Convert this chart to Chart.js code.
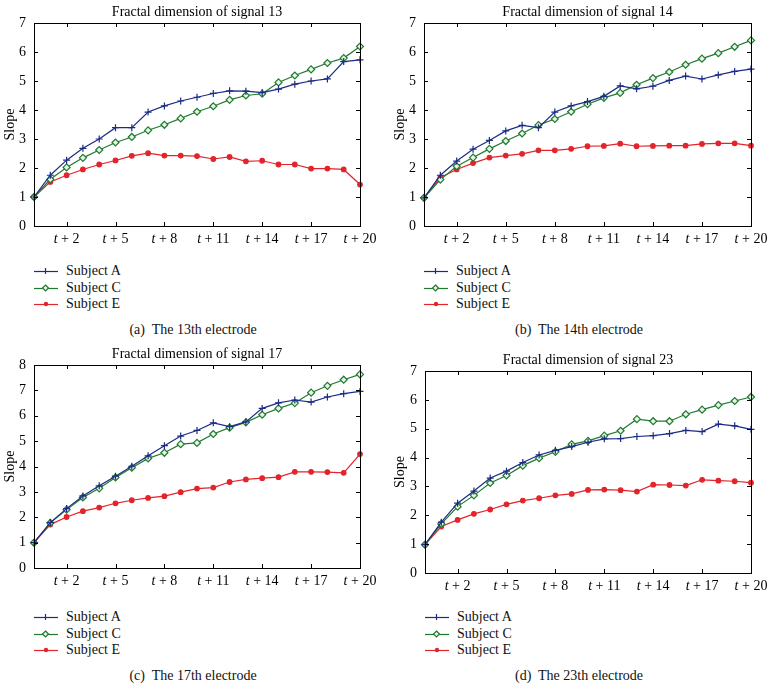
<!DOCTYPE html>
<html lang="en">
<head>
    <meta charset="UTF-8">
    <title>Fractal dimension of signals</title>
    <script src="https://cdn.jsdelivr.net/npm/chart.js"></script>
    <style>
        body {
            margin: 0;
            background: #fff;
            font-family: "Liberation Serif", serif;
        }
        .page {
            position: relative;
            width: 772px;
            height: 690px;
        }
        .panel {
            position: absolute;
        }
        .legend {
            position: absolute;
            font-size: 14px;
            line-height: 16.5px;
            color: #111;
        }
        .legend div {
            display: flex;
            align-items: center;
        }
        .legend svg {
            margin-right: 8px;
        }
        .caption {
            position: absolute;
            width: 386px;
            text-align: center;
            font-size: 14px;
            color: #111;
            white-space: pre;
        }
    </style>
</head>
<body>
<div class="page" id="page"></div>
<script>
    // x categories: t, t + 1, ..., t + 20
    const steps = ['t', 't + 1', 't + 2', 't + 3', 't + 4', 't + 5', 't + 6', 't + 7', 't + 8', 't + 9', 't + 10',
        't + 11', 't + 12', 't + 13', 't + 14', 't + 15', 't + 16', 't + 17', 't + 18', 't + 19', 't + 20'];
    const labelledSteps = [2, 5, 8, 11, 14, 17, 20];
    const subjects = ['Subject A', 'Subject C', 'Subject E'];

    // signal 13
    const sig13A = [1.0, 1.75, 2.27, 2.68, 3.0, 3.39, 3.39, 3.93, 4.14, 4.31, 4.44, 4.57, 4.66, 4.65, 4.6, 4.72, 4.89, 5.0, 5.07, 5.67, 5.73];
    const sig13C = [1.0, 1.61, 2.02, 2.35, 2.62, 2.88, 3.07, 3.3, 3.49, 3.71, 3.94, 4.13, 4.35, 4.5, 4.56, 4.95, 5.19, 5.4, 5.62, 5.79, 6.19];
    const sig13E = [1.0, 1.52, 1.75, 1.95, 2.12, 2.26, 2.42, 2.51, 2.43, 2.43, 2.41, 2.31, 2.38, 2.23, 2.25, 2.12, 2.12, 1.98, 1.98, 1.95, 1.43];
    // signal 14
    const sig14A = [0.97, 1.75, 2.24, 2.65, 2.95, 3.28, 3.47, 3.39, 3.93, 4.14, 4.29, 4.47, 4.83, 4.73, 4.82, 5.02, 5.17, 5.07, 5.21, 5.33, 5.41];
    const sig14C = [0.97, 1.6, 2.06, 2.36, 2.66, 2.93, 3.19, 3.48, 3.69, 3.94, 4.2, 4.42, 4.59, 4.87, 5.1, 5.31, 5.56, 5.77, 5.96, 6.18, 6.4];
    const sig14E = [0.97, 1.67, 1.95, 2.17, 2.36, 2.43, 2.49, 2.61, 2.61, 2.66, 2.75, 2.76, 2.84, 2.75, 2.76, 2.77, 2.77, 2.83, 2.85, 2.85, 2.77];
    // signal 17
    const sig17A = [1.0, 1.79, 2.34, 2.84, 3.24, 3.62, 4.01, 4.42, 4.82, 5.2, 5.42, 5.72, 5.57, 5.76, 6.29, 6.51, 6.62, 6.54, 6.74, 6.87, 6.96];
    const sig17C = [1.0, 1.78, 2.3, 2.78, 3.14, 3.57, 3.95, 4.32, 4.54, 4.88, 4.93, 5.28, 5.53, 5.74, 6.04, 6.29, 6.5, 6.91, 7.18, 7.42, 7.63];
    const sig17E = [1.0, 1.71, 2.01, 2.24, 2.38, 2.55, 2.67, 2.76, 2.83, 2.99, 3.13, 3.17, 3.39, 3.49, 3.54, 3.58, 3.79, 3.79, 3.78, 3.75, 4.49];
    // signal 23
    const sig23A = [0.98, 1.76, 2.42, 2.84, 3.29, 3.53, 3.83, 4.09, 4.25, 4.38, 4.53, 4.65, 4.66, 4.73, 4.76, 4.83, 4.94, 4.9, 5.16, 5.1, 4.98];
    const sig23C = [0.98, 1.7, 2.3, 2.69, 3.12, 3.38, 3.72, 3.98, 4.2, 4.46, 4.58, 4.76, 4.93, 5.33, 5.26, 5.26, 5.5, 5.66, 5.82, 5.96, 6.1];
    const sig23E = [0.98, 1.61, 1.84, 2.05, 2.2, 2.38, 2.51, 2.59, 2.69, 2.74, 2.88, 2.89, 2.87, 2.82, 3.06, 3.05, 3.03, 3.23, 3.2, 3.18, 3.13];

    const colors = ['#1c2b84', '#1f7a2f', '#e3242b'];
    const FONT = '"Liberation Serif", serif';

    // panel placement (box + plot area inside the box)
    const panels = [
        {title: 'Fractal dimension of signal 13', caption: '(a)  The 13th electrode', yMax: 7, data: [sig13A, sig13C, sig13E],
            x: 0, y: 0, w: 386, h: 250, plot: {l: 34, r: 360, t: 23, b: 226}, slopeX: 10, legendTop: 263, captionTop: 322},
        {title: 'Fractal dimension of signal 14', caption: '(b)  The 14th electrode', yMax: 7, data: [sig14A, sig14C, sig14E],
            x: 386, y: 0, w: 386, h: 250, plot: {l: 38, r: 365, t: 23, b: 226}, slopeX: 14, legendTop: 263, captionTop: 322},
        {title: 'Fractal dimension of signal 17', caption: '(c)  The 17th electrode', yMax: 8, data: [sig17A, sig17C, sig17E],
            x: 0, y: 340, w: 386, h: 250, plot: {l: 34, r: 360, t: 25, b: 228}, slopeX: 10, legendTop: 609, captionTop: 668},
        {title: 'Fractal dimension of signal 23', caption: '(d)  The 23th electrode', yMax: 7, data: [sig23A, sig23C, sig23E],
            x: 386, y: 340, w: 386, h: 250, plot: {l: 39, r: 365, t: 31, b: 233}, slopeX: 14, legendTop: 609, captionTop: 668}
    ];

    const frame = {
        id: 'frame',
        afterDraw(chart, args, opts) {
            const ctx = chart.ctx;
            const a = chart.chartArea;
            const xs = chart.scales.x, ys = chart.scales.y;
            ctx.save();
            ctx.strokeStyle = '#000';
            ctx.lineWidth = 1;
            ctx.strokeRect(a.left + 0.5, a.top + 0.5, a.right - a.left, a.bottom - a.top);
            ctx.beginPath();
            for (let v = 0; v <= opts.yMax; v++) {
                const py = Math.round(ys.getPixelForValue(v)) + 0.5;
                ctx.moveTo(a.left, py); ctx.lineTo(a.left + 4, py);
                ctx.moveTo(a.right, py); ctx.lineTo(a.right - 4, py);
            }
            labelledSteps.forEach(i => {
                const px = Math.round(xs.getPixelForValue(i)) + 0.5;
                ctx.moveTo(px, a.bottom); ctx.lineTo(px, a.bottom - 4);
                ctx.moveTo(px, a.top); ctx.lineTo(px, a.top + 4);
            });
            ctx.stroke();

            // x tick labels with italic t
            ctx.fillStyle = '#000';
            ctx.textBaseline = 'middle';
            labelledSteps.forEach(i => {
                const px = xs.getPixelForValue(i);
                const rest = steps[i].slice(1);
                ctx.font = 'italic 14px ' + FONT;
                const wt = ctx.measureText('t').width;
                ctx.font = '14px ' + FONT;
                const wr = ctx.measureText(rest).width;
                const x0 = px - (wt + wr) / 2;
                ctx.textAlign = 'left';
                ctx.font = 'italic 14px ' + FONT;
                ctx.fillText('t', x0, a.bottom + 13);
                ctx.font = '14px ' + FONT;
                ctx.fillText(rest, x0 + wt, a.bottom + 13);
            });

            // title
            ctx.textAlign = 'center';
            ctx.font = '14px ' + FONT;
            ctx.fillText(opts.title, (a.left + a.right) / 2, a.top - 11);

            // y title
            ctx.translate(opts.slopeX, (a.top + a.bottom) / 2);
            ctx.rotate(-Math.PI / 2);
            ctx.fillText('Slope', 0, 0);
            ctx.restore();
        }
    };

    const page = document.getElementById('page');

    function legendSymbol(k) {
        const c = colors[k];
        let m = '';
        if (k === 0) m = `<path d="M11.5 3v6" stroke="${c}" stroke-width="1.2"/>`;
        if (k === 1) m = `<path d="M11.5 3l3 3-3 3-3-3z" fill="#e6f3e6" stroke="${c}" stroke-width="1.2"/>`;
        if (k === 2) m = `<circle cx="12" cy="6" r="2.2" fill="${c}"/>`;
        return `<svg width="24" height="12"><path d="M0 6.5h24" stroke="${c}" stroke-width="1.2"/>${m}</svg>`;
    }

    panels.forEach(p => {
        const box = document.createElement('div');
        box.className = 'panel';
        Object.assign(box.style, {left: p.x + 'px', top: p.y + 'px', width: p.w + 'px', height: p.h + 'px'});
        const canvas = document.createElement('canvas');
        box.appendChild(canvas);
        page.appendChild(box);

        const legend = document.createElement('div');
        legend.className = 'legend';
        legend.style.left = (p.x + p.plot.l) + 'px';
        legend.style.top = p.legendTop + 'px';
        legend.innerHTML = subjects.map((s, k) => `<div>${legendSymbol(k)}<span>${s}</span></div>`).join('');
        page.appendChild(legend);

        const cap = document.createElement('div');
        cap.className = 'caption';
        cap.style.left = p.x + 'px';
        cap.style.top = p.captionTop + 'px';
        cap.textContent = p.caption;
        page.appendChild(cap);

        const styles = [
            {pointStyle: 'cross', pointRadius: 3.5, backgroundColor: colors[0]},
            {pointStyle: 'rectRot', pointRadius: 3.5, backgroundColor: '#e6f3e6'},
            {pointStyle: 'circle', pointRadius: 2.3, backgroundColor: colors[2]}
        ];

        new Chart(canvas, {
            type: 'line',
            data: {
                labels: steps,
                datasets: subjects.map((s, k) => ({
                    label: s,
                    data: p.data[k],
                    borderColor: colors[k],
                    borderWidth: 1.2,
                    pointBorderWidth: 1.2,
                    pointBorderColor: colors[k],
                    tension: 0,
                    clip: false,
                    ...styles[k]
                }))
            },
            options: {
                responsive: true,
                maintainAspectRatio: false,
                animation: false,
                layout: {padding: {top: p.plot.t, right: p.w - p.plot.r, left: 0, bottom: 0}},
                plugins: {
                    legend: {display: false},
                    tooltip: {enabled: false},
                    frame: {title: p.title, yMax: p.yMax, slopeX: p.slopeX}
                },
                scales: {
                    x: {
                        offset: false,
                        grid: {display: false, drawTicks: false},
                        border: {display: false},
                        ticks: {display: false},
                        afterFit: s => { s.height = p.h - p.plot.b; }
                    },
                    y: {
                        min: 0,
                        max: p.yMax,
                        grid: {display: false, drawTicks: false},
                        border: {display: false},
                        ticks: {stepSize: 1, color: '#000', padding: 8, font: {family: FONT, size: 14}},
                        afterFit: s => { s.width = p.plot.l; }
                    }
                }
            },
            plugins: [frame]
        });
    });
</script>
</body>
</html>
